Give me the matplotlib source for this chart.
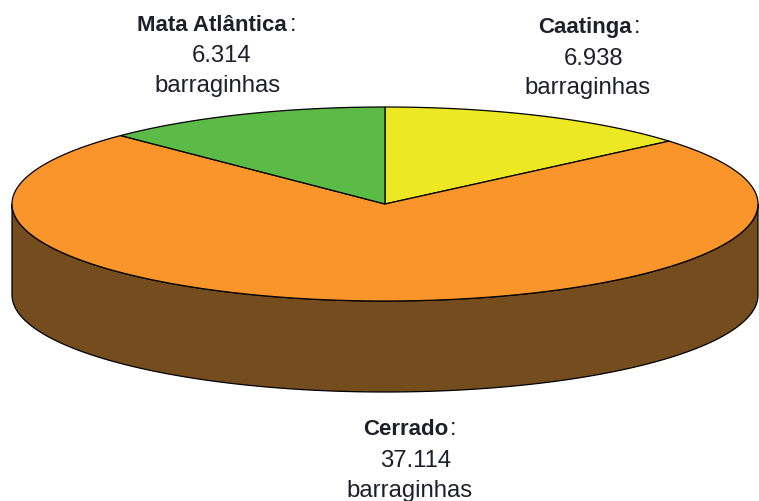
import numpy as np
import matplotlib
matplotlib.use("Agg")
import matplotlib.pyplot as plt

plt.rcParams['font.family'] = ['Liberation Sans', 'DejaVu Sans']

# barraginhas por bioma, em sentido horario a partir do topo
biomas = ['Caatinga', 'Cerrado', 'Mata Atlântica']
valores = [6938, 37114, 6314]
rotulos = ['6.938', '37.114', '6.314']
cores = ['#EDE824', '#F9952B', '#5CBB46']
cor_lateral = '#754C1E'

W, H = 759, 502
cx, cy = 385, 205
rx, ry = 373, 97
altura = 91

fig = plt.figure(figsize=(W / 100, H / 100), dpi=100)
ax = fig.add_axes([0, 0, 1, 1])
ax.set_xlim(0, W)
ax.set_ylim(H, 0)
ax.axis('off')


def ponto(t):
    return cx + rx * np.sin(t), cy - ry * np.cos(t)


# lateral do cilindro
t = np.linspace(np.pi / 2, 3 * np.pi / 2, 200)
x, y = ponto(t)
ax.fill(np.r_[x, x[::-1]], np.r_[y + altura, y[::-1]],
        facecolor=cor_lateral, edgecolor='black', linewidth=0.9, zorder=1)

# fatias do topo
angulos = np.r_[0, np.cumsum(valores)] / sum(valores) * 2 * np.pi
for i in range(len(valores)):
    t = np.linspace(angulos[i], angulos[i + 1], 300)
    x, y = ponto(t)
    ax.fill(np.r_[cx, x], np.r_[cy, y], facecolor=cores[i],
            edgecolor='black', linewidth=0.9, zorder=2)

# rotulos (linha de base)
fs_bold = 16
fs = 17.2
cor = '#1f1f2a'
pos = {'Caatinga': (538, 634, 33, 594, 65, 588, 94),
       'Cerrado': (363, 450, 435, 416, 467, 409, 497),
       'Mata Atlântica': (137, 290, 31, 222, 62, 217, 92)}
for b, r in zip(biomas, rotulos):
    x0, x1, y0, x2, y2, x3, y3 = pos[b]
    ax.text(x0, y0, b, fontsize=fs_bold, fontweight='bold', color=cor, ha='left', va='baseline')
    ax.text(x1, y0, ':', fontsize=fs, color=cor, ha='left', va='baseline')
    ax.text(x2, y2, r, fontsize=fs, color=cor, ha='center', va='baseline')
    ax.text(x3, y3, 'barraginhas', fontsize=fs, color=cor, ha='center', va='baseline')

fig.savefig('out.png', dpi=100)
